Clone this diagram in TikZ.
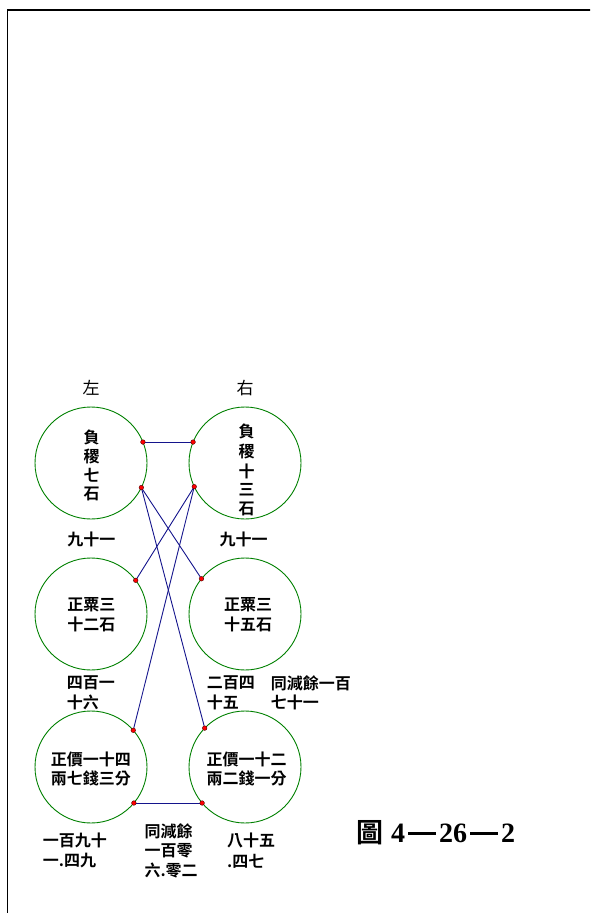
\documentclass[tikz,border=0pt]{standalone}
\usepackage{fontspec}
\newfontfamily\cjk{Noto Sans CJK TC}
\newfontfamily\cjkb{Noto Sans CJK TC Bold}
\newfontfamily\serifb{Liberation Serif}
\definecolor{cgreen}{RGB}{0,128,0}
\definecolor{cnavy}{RGB}{20,20,140}
\newcommand{\capdash}{\hspace{3pt}\rule[8pt]{28pt}{2.4pt}\hspace{3pt}}
\tikzset{
  circ/.style={circle, draw=cgreen, line width=0.9pt, minimum size=112pt, inner sep=0pt, outer sep=0pt},
  conn/.style={draw=cnavy, line width=0.9pt},
  dot/.style={circle, fill=red, draw=black!70!red, line width=0.4pt, minimum size=4.6pt, inner sep=0pt},
  lbl/.style={inner sep=0pt, font=\cjkb\fontsize{16}{19}\selectfont},
  hdr/.style={inner sep=0pt, font=\cjk\fontsize{17}{19}\selectfont},
}
\begin{document}
\begin{tikzpicture}[x=1pt,y=-1pt]
\useasboundingbox (0,0) rectangle (590,913);
\clip (0,0) rectangle (590,913);
\draw[line width=1.8pt] (7.5,10) rectangle (640,960);

\node[circ] (c1) at (91,463) {};
\node[circ] (c2) at (245,463) {};
\node[circ] (c3) at (91,614) {};
\node[circ] (c4) at (245,614) {};
\node[circ] (c5) at (91,767) {};
\node[circ] (c6) at (245,767) {};

% connection points
\coordinate (d1) at (c1.22);
\coordinate (d2) at (c2.158);
\coordinate (d3) at (c1.-26);
\coordinate (d4) at (c2.205);
\coordinate (d5) at (c3.37);
\coordinate (d6) at (c4.141);
\coordinate (d7) at (c5.41);
\coordinate (d8) at (c6.136);
\coordinate (d9) at (c5.-40);
\coordinate (d10) at (c6.220);

\draw[conn] (d1) -- (d2);
\draw[conn] (d3) -- (d6);
\draw[conn] (d3) -- (d8);
\draw[conn] (d4) -- (d5);
\draw[conn] (d4) -- (d7);
\draw[conn] (d9) -- (d10);

\foreach \d in {d1,d2,d3,d4,d5,d6,d7,d8,d9,d10}{
  \node[dot] at (\d) {};
}

% headers
\node[hdr] (hl) at (91,388) {左};
\node[hdr] (hr) at (245,388) {右};

% top circle texts
\node[lbl] (t1a) at (91.5,437) {負};
\node[lbl] (t1b) at (91.5,456) {稷};
\node[lbl] (t1c) at (91.5,475) {七};
\node[lbl] (t1d) at (91.5,494) {石};
\node[lbl] (t2a) at (246.5,431.5) {負};
\node[lbl] (t2b) at (246.5,451) {稷};
\node[lbl] (t2c) at (246.5,471) {十};
\node[lbl] (t2d) at (246.5,490) {三};
\node[lbl] (t2e) at (246.5,508.5) {石};

\node[lbl] (n1) at (91.3,539) {九十一};
\node[lbl] (n2) at (243.7,539) {九十一};

\node[lbl] (m1a) at (91.3,605) {正粟三};
\node[lbl] (m1b) at (91.3,624.5) {十二石};
\node[lbl] (m2a) at (248,605) {正粟三};
\node[lbl] (m2b) at (248,624.5) {十五石};

\node[lbl,anchor=west] (p1a) at (66.7,683.3) {四百一};
\node[lbl,anchor=west] (p1b) at (66.7,702.7) {十六};
\node[lbl,anchor=west] (p2a) at (206.7,683.3) {二百四};
\node[lbl,anchor=west] (p2b) at (206.7,702.7) {十五};
\node[lbl,anchor=west] (p3a) at (270.7,683.3) {同減餘一百};
\node[lbl,anchor=west] (p3b) at (270.7,702.7) {七十一};

\node[lbl] (b1a) at (90.8,759.3) {正價一十四};
\node[lbl] (b1b) at (90.8,778.3) {兩七錢三分};
\node[lbl] (b2a) at (246.7,759.3) {正價一十二};
\node[lbl] (b2b) at (246.7,778.3) {兩二錢一分};

\node[lbl,anchor=west] (q1a) at (42.7,840.5) {一百九十};
\node[lbl,anchor=west] (q1b) at (42.7,861) {一.四九};
\node[lbl,anchor=west] (q2a) at (144.3,831.7) {同減餘};
\node[lbl,anchor=west] (q2b) at (144.3,851) {一百零};
\node[lbl,anchor=west] (q2c) at (144.3,870) {六.零二};
\node[lbl,anchor=west] (q3a) at (227,840.5) {八十五};
\node[lbl,anchor=west] (q3b) at (227,861) {.四七};

% caption
\node[inner sep=0pt, anchor=west] (cap) at (356,833) {{\cjkb\fontsize{27}{28}\selectfont 圖}\hspace{8pt}{\serifb\bfseries\fontsize{28}{30}\selectfont 4\capdash 26\capdash 2}};
\end{tikzpicture}
\end{document}
